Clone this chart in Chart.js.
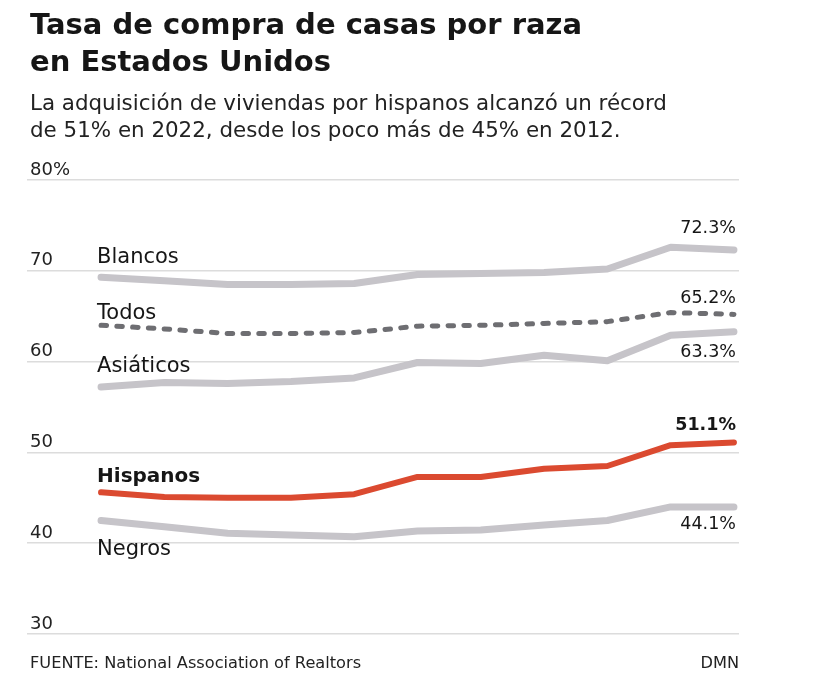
<!DOCTYPE html>
<html><head><meta charset="utf-8">
<script src="https://cdn.jsdelivr.net/npm/chart.js@4/dist/chart.umd.min.js"></script>
<style>
html,body{margin:0;padding:0;background:#fff;}
#wrap{position:relative;width:830px;height:693px;overflow:hidden;font-family:"DejaVu Sans",sans-serif;color:#1b1b1b;}
#c{position:absolute;left:0;top:0;}
.t{position:absolute;left:30px;top:6px;font-weight:700;font-size:29px;line-height:37px;color:#161616;white-space:nowrap;}
.s{position:absolute;left:30px;top:89px;font-size:21.4px;line-height:27px;color:#222;white-space:nowrap;}
.f{position:absolute;left:30px;top:653px;font-size:16.2px;line-height:20px;color:#222;white-space:nowrap;}
.d{position:absolute;right:91px;top:653px;font-size:16.2px;line-height:20px;color:#222;}
</style></head>
<body><div id="wrap">
<canvas id="c" width="830" height="693"></canvas>
<div class="t">Tasa de compra de casas por raza<br>en Estados Unidos</div>
<div class="s">La adquisición de viviendas por hispanos alcanzó un récord<br>de 51% en 2022, desde los poco más de 45% en 2012.</div>
<div class="f">FUENTE: National Association of Realtors</div>
<div class="d">DMN</div>
</div>
<script>
const years = [2012,2013,2014,2015,2016,2017,2018,2019,2020,2021,2022];
const blancos   = [69.3,68.9,68.5,68.5,68.6,69.6,69.7,69.8,70.2,72.6,72.3];
const todos     = [64.0,63.6,63.1,63.1,63.2,63.9,64.0,64.2,64.4,65.4,65.2];
const asiaticos = [57.2,57.7,57.6,57.8,58.2,59.9,59.8,60.7,60.1,62.9,63.3];
const hispanos  = [45.6,45.1,45.0,45.0,45.4,47.3,47.3,48.2,48.5,50.8,51.1];
const negros    = [42.5,41.8,41.1,40.9,40.7,41.35,41.45,42.0,42.5,44.0,44.0];
const seriesNames = ['Hispanos','Blancos','Todos','Asiáticos','Negros'];
const endLabels = ['51.1%','72.3%','65.2%','63.3%','44.1%'];
const yTicks = [30,40,50,60,70,80];

const GRAY='#c6c4c9', RED='#db4a30', DARK='#6e6e72';
const FONT='"DejaVu Sans"';
const pts = arr => arr.map((v,i)=>({x:years[i], y:v}));

// label styling: [startDy, endDy, bold]
const labelStyle = {
  'Blancos':[-14,-17,false],
  'Todos':[-6,-11,false],
  'Asiáticos':[-15,25,false],
  'Hispanos':[-10,-12,true],
  'Negros':[34,22,false]
};

const labelPlugin = {
  id:'lbl',
  afterDatasetsDraw(chart){
    const ctx = chart.ctx;
    chart.data.datasets.forEach((ds,i)=>{
      const meta = chart.getDatasetMeta(i);
      const first = meta.data[0], last = meta.data[meta.data.length-1];
      const st = labelStyle[ds.label];
      ctx.save();
      ctx.fillStyle = '#161616';
      ctx.textBaseline = 'alphabetic';
      ctx.font = (st[2]?'700 ':'400 ') + (st[2]?'20px ':'21px ') + FONT;
      ctx.textAlign = 'left';
      ctx.fillText(ds.label, first.x - 4, first.y + st[0]);
      ctx.font = (st[2]?'700 ':'400 ') + '17.5px ' + FONT;
      ctx.textAlign = 'right';
      ctx.fillText(endLabels[i], last.x + 2, last.y + st[1]);
      ctx.restore();
    });
  }
};

new Chart(document.getElementById('c'), {
  type:'line',
  data:{ datasets:[
    {label:seriesNames[0], data:pts(hispanos), borderColor:RED, borderWidth:6},
    {label:seriesNames[1], data:pts(blancos), borderColor:GRAY, borderWidth:7},
    {label:seriesNames[2], data:pts(todos), borderColor:DARK, borderWidth:5, borderDash:[5.5,10.3]},
    {label:seriesNames[3], data:pts(asiaticos), borderColor:GRAY, borderWidth:7},
    {label:seriesNames[4], data:pts(negros), borderColor:GRAY, borderWidth:7}
  ].map(d=>Object.assign({pointRadius:0, tension:0, borderCapStyle:'round', borderJoinStyle:'round', fill:false}, d))},
  options:{
    responsive:false, animation:false, devicePixelRatio:1,
    layout:{padding:{left:21, right:91, top:180, bottom:59}},
    plugins:{legend:{display:false}, tooltip:{enabled:false}},
    scales:{
      x:{type:'linear', display:false, min:2010.83, max:2022.08},
      y:{min:30, max:80,
         afterBuildTicks: ax => { ax.ticks = yTicks.map(v=>({value:v})); },
         border:{display:false},
         grid:{color:'#dcdcdc', lineWidth:1.5, drawTicks:false},
         ticks:{mirror:true, padding:3, labelOffset:-10, color:'#222',
           font:{family:FONT, size:18},
           callback: v => v===80 ? v+'%' : String(v)}
      }
    }
  },
  plugins:[labelPlugin]
});
</script>
</body></html>
